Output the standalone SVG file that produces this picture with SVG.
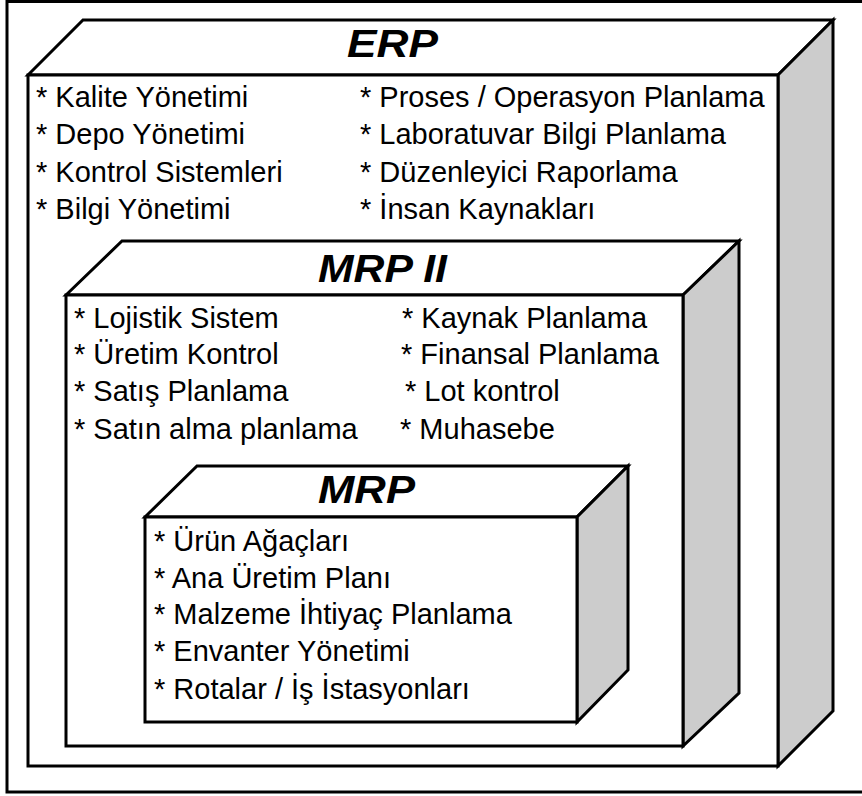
<svg xmlns="http://www.w3.org/2000/svg" width="862" height="796" viewBox="0 0 862 796">
<style>
.f{fill:#fff;stroke:#000;stroke-width:3;stroke-linejoin:miter}
.s{fill:#cccccc;stroke:#000;stroke-width:3;stroke-linejoin:miter}
.t{font-family:"Liberation Sans",Arial,sans-serif;font-size:29px;fill:#000}
.h{font-family:"Liberation Sans",Arial,sans-serif;font-size:39px;font-weight:bold;font-style:italic;fill:#000}
</style>
<rect x="0" y="0" width="862" height="796" fill="#fff"/>
<rect x="7" y="1.5" width="900" height="790.5" fill="none" stroke="#000" stroke-width="3"/>
<g id="erp">
<polygon class="f" points="28,75 83,20 833,20 778,75"/>
<polygon class="s" points="778,75 833,20 833,711 778,766"/>
<rect class="f" x="28" y="75" width="750" height="691"/>
<text class="h" x="347" y="57" textLength="91" lengthAdjust="spacingAndGlyphs">ERP</text>
<text class="t" x="36" y="107">* Kalite Yönetimi</text>
<text class="t" x="36" y="144">* Depo Yönetimi</text>
<text class="t" x="36" y="182">* Kontrol Sistemleri</text>
<text class="t" x="36" y="219">* Bilgi Yönetimi</text>
<text class="t" x="360" y="107">* Proses / Operasyon Planlama</text>
<text class="t" x="360" y="144">* Laboratuvar Bilgi Planlama</text>
<text class="t" x="360" y="182">* Düzenleyici Raporlama</text>
<text class="t" x="360" y="219">* İnsan Kaynakları</text>
</g>
<g id="mrp2">
<polygon class="f" points="66,295 122,241 739,241 683,295"/>
<polygon class="s" points="683,295 739,241 739,693 683,746"/>
<rect class="f" x="66" y="295" width="617" height="451"/>
<text class="h" x="318" y="282" textLength="129" lengthAdjust="spacingAndGlyphs">MRP II</text>
<text class="t" x="74" y="328">* Lojistik Sistem</text>
<text class="t" x="74" y="364">* Üretim Kontrol</text>
<text class="t" x="74" y="401">* Satış Planlama</text>
<text class="t" x="74" y="439">* Satın alma planlama</text>
<text class="t" x="402" y="328">* Kaynak Planlama</text>
<text class="t" x="401" y="364">* Finansal Planlama</text>
<text class="t" x="405" y="401">* Lot kontrol</text>
<text class="t" x="400" y="439">* Muhasebe</text>
</g>
<g id="mrp">
<polygon class="f" points="145,517 197,466 628,466 577,517"/>
<polygon class="s" points="577,517 628,466 628,670 577,722"/>
<rect class="f" x="145" y="517" width="432" height="205"/>
<text class="h" x="318" y="503" textLength="97" lengthAdjust="spacingAndGlyphs">MRP</text>
<text class="t" x="154" y="551">* Ürün Ağaçları</text>
<text class="t" x="154" y="588">* Ana Üretim Planı</text>
<text class="t" x="154" y="624">* Malzeme İhtiyaç Planlama</text>
<text class="t" x="154" y="661">* Envanter Yönetimi</text>
<text class="t" x="154" y="699">* Rotalar / İş İstasyonları</text>
</g>
<g id="connectors"></g>
</svg>
